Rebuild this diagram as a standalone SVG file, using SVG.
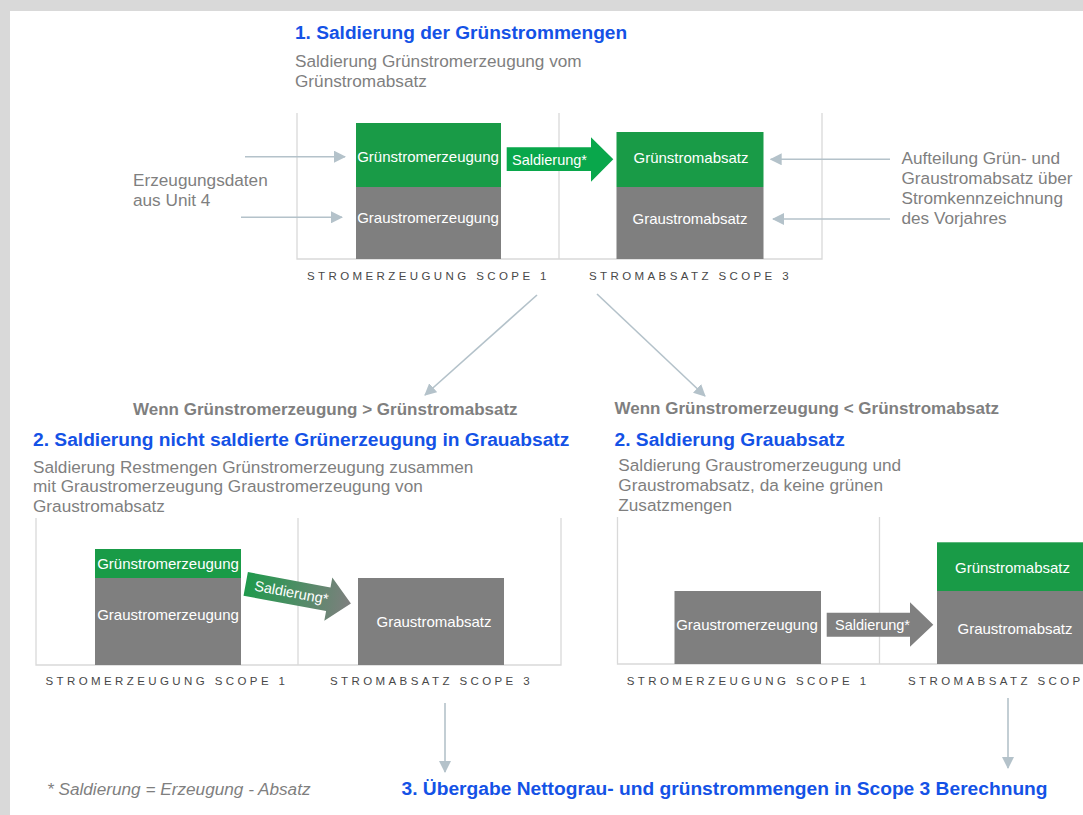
<svg xmlns="http://www.w3.org/2000/svg" width="1083" height="815" viewBox="0 0 1083 815">
<defs>
<style>
text{font-family:"Liberation Sans",Arial,sans-serif}
.axis{stroke:#d9d9d9;stroke-width:1.3;fill:none}
.conn{stroke:#b4c2ca;stroke-width:1.6;fill:none;marker-end:url(#ah)}
.green{fill:#199b47}
.gray{fill:#7f7f7f}
.lbl{font-size:15px;fill:#fff;text-anchor:middle}
.sal{font-size:14.5px;fill:#fff}
.h{font-weight:bold;fill:#1452e6;font-size:19.2px}
.d{fill:#7f7f7f;font-size:17.2px}
.w{fill:#7f7f7f;font-weight:bold;font-size:17px}
.ax{fill:#484848;font-size:11.5px;letter-spacing:3.4px}
</style>
<marker id="ah" markerUnits="userSpaceOnUse" markerWidth="12" markerHeight="12" refX="11" refY="6" orient="auto">
<path d="M0,0 L12,6 L0,12 Z" fill="#b4c2ca"/>
</marker>
<linearGradient id="gg" gradientUnits="userSpaceOnUse" x1="0" y1="0" x2="107" y2="0">
<stop offset="0" stop-color="#1f9a4c"/>
<stop offset="1" stop-color="#7f7f7f"/>
</linearGradient>
</defs>

<rect x="0" y="0" width="1083" height="815" fill="#d9d9d9"/>
<rect x="10" y="11" width="1073" height="804" fill="#ffffff"/>

<!-- Section 1 header -->
<g id="title1">
<text x="295" y="39" class="h" style="font-size:19.1px">1. Saldierung der Grünstrommengen</text>
<text x="295" y="66.5" class="d">Saldierung Grünstromerzeugung vom</text>
<text x="295" y="86.5" class="d">Grünstromabsatz</text>
</g>

<g id="note-left">
<text x="133" y="185.5" class="d">Erzeugungsdaten</text>
<text x="133" y="205.5" class="d">aus Unit 4</text>
</g>

<g id="note-right">
<text x="901.5" y="164.3" class="d">Aufteilung Grün- und</text>
<text x="901.5" y="184.3" class="d">Graustromabsatz über</text>
<text x="901.5" y="204.3" class="d">Stromkennzeichnung</text>
<text x="901.5" y="224.3" class="d">des Vorjahres</text>
</g>

<!-- Top chart -->
<g id="chart1-axes">
<path class="axis" d="M297,113 V259 H822 V113 M559,113 V259"/>
<text x="307" y="280" class="ax">STROMERZEUGUNG SCOPE 1</text>
<text x="589" y="280" class="ax">STROMABSATZ SCOPE 3</text>
</g>

<g id="top-gruenstromerzeugung">
<rect x="356" y="123" width="145" height="64" class="green"/>
<text x="428" y="162" class="lbl">Grünstromerzeugung</text>
</g>
<g id="top-graustromerzeugung">
<rect x="356" y="187" width="145" height="72" class="gray"/>
<text x="428" y="223" class="lbl">Graustromerzeugung</text>
</g>
<g id="top-saldierung">
<polygon points="506.7,147.3 591,147.3 591,137.3 613.3,159.3 591,181.7 591,171 506.7,171" fill="#09a74b"/>
<text x="512" y="164.5" class="sal">Saldierung*</text>
</g>
<g id="top-gruenstromabsatz">
<rect x="616.5" y="132" width="147" height="55" class="green"/>
<text x="691" y="162.5" class="lbl">Grünstromabsatz</text>
</g>
<g id="top-graustromabsatz">
<rect x="616.5" y="187" width="147" height="72" class="gray"/>
<text x="690" y="224" class="lbl">Graustromabsatz</text>
</g>

<!-- Conditions -->
<g id="cond-left">
<text x="133" y="415" class="w">Wenn Grünstromerzeugung &gt; Grünstromabsatz</text>
<text x="33" y="446" class="h">2. Saldierung nicht saldierte Grünerzeugung in Grauabsatz</text>
<text x="33" y="472.5" class="d">Saldierung Restmengen Grünstromerzeugung zusammen</text>
<text x="33" y="492" class="d">mit Graustromerzeugung Graustromerzeugung von</text>
<text x="33" y="511.5" class="d">Graustromabsatz</text>
</g>
<g id="cond-right">
<text x="614.5" y="414" class="w">Wenn Grünstromerzeugung &lt; Grünstromabsatz</text>
<text x="614.5" y="445.5" class="h">2. Saldierung Grauabsatz</text>
<text x="618.3" y="471" class="d">Saldierung Graustromerzeugung und</text>
<text x="618.3" y="491" class="d">Graustromabsatz, da keine grünen</text>
<text x="618.3" y="511" class="d">Zusatzmengen</text>
</g>

<!-- Bottom left chart -->
<g id="chart2-axes">
<path class="axis" d="M36,518 V665 H561 V518 M298,518 V665"/>
<text x="45.5" y="685" class="ax">STROMERZEUGUNG SCOPE 1</text>
<text x="330" y="685" class="ax">STROMABSATZ SCOPE 3</text>
</g>
<g id="bl-gruenstromerzeugung">
<rect x="95" y="549" width="146" height="29" class="green"/>
<text x="168" y="569.3" class="lbl">Grünstromerzeugung</text>
</g>
<g id="bl-graustromerzeugung">
<rect x="95" y="578" width="146" height="87" class="gray"/>
<text x="168" y="620" class="lbl">Graustromerzeugung</text>
</g>
<g id="bl-saldierung" transform="translate(245.7,583.9) rotate(10.5)">
<polygon points="0,-12 84,-12 84,-22 107,0 84,22 84,12 0,12" fill="url(#gg)"/>
<text x="9" y="5" class="sal">Saldierung*</text>
</g>
<g id="bl-graustromabsatz">
<rect x="358" y="578" width="146" height="87" class="gray"/>
<text x="434" y="627.3" class="lbl">Graustromabsatz</text>
</g>

<!-- Bottom right chart -->
<g id="chart3-axes">
<path class="axis" d="M617.5,517 V664 H1083 M879.5,517 V664"/>
<text x="626.7" y="684.5" class="ax">STROMERZEUGUNG SCOPE 1</text>
<text x="908" y="684.5" class="ax">STROMABSATZ SCOPE 3</text>
</g>
<g id="br-graustromerzeugung">
<rect x="674.5" y="591" width="146.5" height="73" class="gray"/>
<text x="747" y="630" class="lbl">Graustromerzeugung</text>
</g>
<g id="br-saldierung">
<polygon points="826.7,612.7 910,612.7 910,602.3 933.3,624.7 910,646.7 910,636.7 826.7,636.7" fill="#808080"/>
<text x="835" y="630" class="sal">Saldierung*</text>
</g>
<g id="br-gruenstromabsatz">
<rect x="937" y="542.3" width="150" height="48.7" class="green"/>
<text x="1012.5" y="573" class="lbl">Grünstromabsatz</text>
</g>
<g id="br-graustromabsatz">
<rect x="937" y="591" width="150" height="73" class="gray"/>
<text x="1015" y="634" class="lbl">Graustromabsatz</text>
</g>

<!-- Footer -->
<g id="footnote">
<text x="47" y="794.5" class="d" style="font-style:italic">* Saldierung = Erzeugung - Absatz</text>
</g>
<g id="result">
<text x="401.5" y="795" class="h">3. Übergabe Nettograu- und grünstrommengen in Scope 3 Berechnung</text>
</g>

<!-- Connectors -->
<g id="connectors">
<line class="conn" x1="245" y1="156.7" x2="345" y2="156.7"/>
<line class="conn" x1="241" y1="217.3" x2="342" y2="217.3"/>
<line class="conn" x1="890" y1="159.3" x2="770.7" y2="159.3"/>
<line class="conn" x1="890" y1="219" x2="773" y2="219"/>
<line class="conn" x1="537" y1="295" x2="425" y2="395"/>
<line class="conn" x1="597" y1="294" x2="705" y2="396"/>
<line class="conn" x1="445" y1="703" x2="445" y2="772"/>
<line class="conn" x1="1008" y1="698" x2="1008" y2="768"/>
</g>
</svg>
